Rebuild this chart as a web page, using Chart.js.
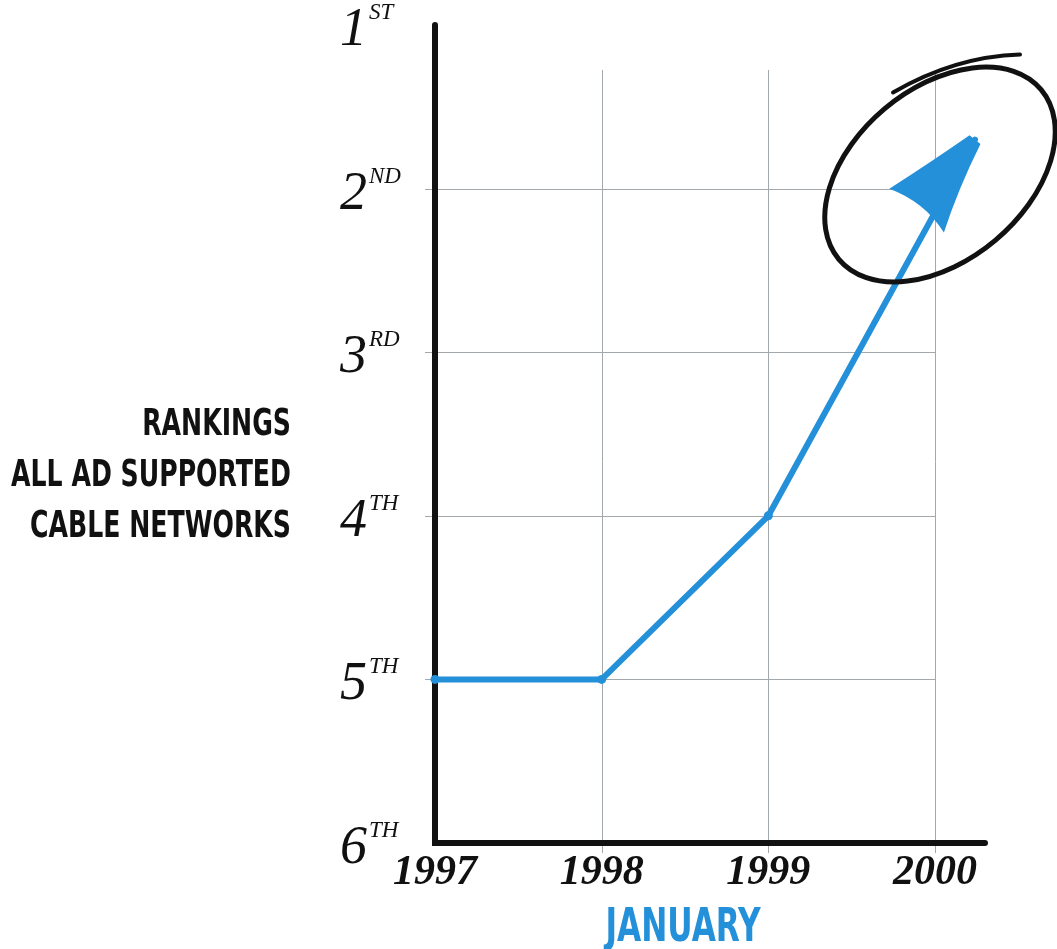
<!DOCTYPE html>
<html>
<head>
<meta charset="utf-8">
<script src="https://cdn.jsdelivr.net/npm/chart.js@4.4.1/dist/chart.umd.min.js"></script>
<style>
  html, body { margin: 0; padding: 0; background: #fff; }
  #wrap { width: 1057px; height: 949px; position: relative; }
</style>
</head>
<body>
<div id="wrap"><canvas id="rankChart"></canvas></div>
<script>
// chart data
const years = [1997, 1998, 1999, 2000];
const rankLabels = ['1ST', '2ND', '3RD', '4TH', '5TH', '6TH'];
const lineYears = [1997, 1998, 1999, 2000.24];
const lineRanks = [5, 5, 4, 1.7];
const titleLines = ['RANKINGS', 'ALL AD SUPPORTED', 'CABLE NETWORKS'];
const xTitle = 'JANUARY';

const BLUE = '#2490d9';
const INK = '#111';
const GRID = '#a3a8ad';
const CONDENSED = '"Liberation Sans Narrow", "DejaVu Sans Condensed", sans-serif';

// draw text squeezed to a given width (no narrow bold font installed)
function squeezed(ctx, text, px, py, width, align) {
  const w = ctx.measureText(text).width;
  const f = width / w;
  ctx.save();
  ctx.translate(px, py);
  ctx.scale(f, 1);
  ctx.textAlign = align;
  ctx.fillText(text, 0, 0);
  ctx.restore();
}

/* hand-drawn look: grid, axes, labels, arrow, circle */
const sketchPlugin = {
  id: 'sketch',
  beforeDatasetsDraw(chart) {
    const { ctx, chartArea: a, scales: { x, y } } = chart;
    ctx.save();
    // grid
    ctx.strokeStyle = GRID;
    ctx.lineWidth = 1;
    years.slice(1).forEach(yr => {
      const px = Math.round(x.getPixelForValue(yr)) + 0.5;
      ctx.beginPath();
      ctx.moveTo(px, a.top + 45);
      ctx.lineTo(px, a.bottom + 10);
      ctx.stroke();
    });
    const lastX = x.getPixelForValue(years[years.length - 1]);
    for (let r = 2; r <= 5; r++) {
      const py = Math.round(y.getPixelForValue(r)) + 0.5;
      ctx.beginPath();
      ctx.moveTo(a.left - 10, py);
      ctx.lineTo(lastX, py);
      ctx.stroke();
    }
    // axes
    ctx.strokeStyle = INK;
    ctx.lineWidth = 6;
    ctx.lineCap = 'round';
    ctx.lineJoin = 'miter';
    ctx.beginPath();
    ctx.moveTo(a.left, a.top);
    ctx.lineTo(a.left, a.bottom);
    ctx.lineTo(a.right, a.bottom);
    ctx.stroke();
    ctx.restore();
  },
  afterDatasetsDraw(chart) {
    const { ctx, chartArea: a, scales: { x, y } } = chart;
    const pts = chart.getDatasetMeta(0).data;
    const p2 = pts[pts.length - 2], p3 = pts[pts.length - 1];
    ctx.save();

    // arrow head, turned a little clockwise from the line like the sketch
    const ang = Math.atan2(p3.y - p2.y, p3.x - p2.x) + 10 * Math.PI / 180;
    const dx = Math.cos(ang), dy = Math.sin(ang);
    const nx = -dy, ny = dx;
    const tip = { x: p3.x, y: p3.y };
    const bc = { x: tip.x - dx * 92, y: tip.y - dy * 92 };
    const c1 = { x: bc.x + nx * 34, y: bc.y + ny * 34 };
    const c2 = { x: bc.x - nx * 36, y: bc.y - ny * 36 };
    ctx.fillStyle = BLUE;
    ctx.lineJoin = 'round';
    ctx.beginPath();
    ctx.moveTo(tip.x + nx * 7, tip.y + ny * 7);
    ctx.quadraticCurveTo(bc.x + dx * 42 + nx * 18, bc.y + dy * 42 + ny * 18, c1.x, c1.y);
    ctx.quadraticCurveTo(bc.x + dx * 12, bc.y + dy * 12, c2.x, c2.y);
    ctx.quadraticCurveTo(bc.x + dx * 48 - nx * 20, bc.y + dy * 48 - ny * 20, tip.x - nx * 7, tip.y - ny * 7);
    ctx.closePath();
    ctx.fill();

    // circled highlight
    const cx = tip.x - 35, cy = tip.y + 35;
    ctx.strokeStyle = INK;
    ctx.lineWidth = 5;
    ctx.beginPath();
    ctx.ellipse(cx, cy, 132, 86, -40 * Math.PI / 180, 0, Math.PI * 2);
    ctx.stroke();
    ctx.lineWidth = 4;
    ctx.lineCap = 'round';
    ctx.beginPath();
    ctx.moveTo(cx - 47, cy - 82);
    ctx.quadraticCurveTo(cx + 15, cy - 118, cx + 80, cy - 120);
    ctx.stroke();

    // y tick labels (number + raised suffix)
    ctx.fillStyle = INK;
    ctx.textBaseline = 'alphabetic';
    rankLabels.forEach((lab, i) => {
      const py = y.getPixelForValue(i + 1);
      ctx.font = 'italic 54px "Liberation Serif", "DejaVu Serif", serif';
      ctx.textAlign = 'right';
      ctx.fillText(lab[0], 367, py + 20);
      ctx.font = 'italic 23px "Liberation Serif", "DejaVu Serif", serif';
      ctx.textAlign = 'left';
      ctx.fillText(lab.slice(1), 369, py - 6);
    });

    // x tick labels
    ctx.font = 'italic bold 42px "Liberation Serif", "DejaVu Serif", serif';
    ctx.textAlign = 'center';
    ctx.textBaseline = 'middle';
    years.forEach(yr => {
      ctx.fillText(String(yr), x.getPixelForValue(yr), a.bottom + 30);
    });

    // y title block, right aligned and squeezed
    ctx.font = 'bold 37px ' + CONDENSED;
    const f = 280 / ctx.measureText(titleLines[1]).width;
    titleLines.forEach((t, i) => {
      squeezed(ctx, t, 291, 425 + i * 51, ctx.measureText(t).width * f, 'right');
    });

    // x title
    ctx.fillStyle = BLUE;
    ctx.font = 'bold 46px ' + CONDENSED;
    squeezed(ctx, xTitle, 683, 929, 155, 'center');
    ctx.restore();
  }
};

new Chart(document.getElementById('rankChart').getContext('2d'), {
  type: 'line',
  data: {
    datasets: [{
      data: lineYears.map((yr, i) => ({ x: yr, y: lineRanks[i] })),
      borderColor: BLUE,
      backgroundColor: BLUE,
      borderWidth: 6,
      borderCapStyle: 'round',
      borderJoinStyle: 'round',
      tension: 0,
      pointRadius: [4.5, 4.5, 4.5, 0],
      pointBorderWidth: 0,
      pointBackgroundColor: BLUE,
      clip: false
    }]
  },
  options: {
    responsive: true,
    maintainAspectRatio: false,
    animation: false,
    layout: { padding: { left: 435, right: 72, top: 25, bottom: 106 } },
    plugins: { legend: { display: false }, tooltip: { enabled: false } },
    scales: {
      x: { type: 'linear', min: 1997, max: 2000.3, display: false },
      y: { type: 'linear', min: 1, max: 6, reverse: true, display: false }
    }
  },
  plugins: [sketchPlugin]
});
</script>
</body>
</html>
